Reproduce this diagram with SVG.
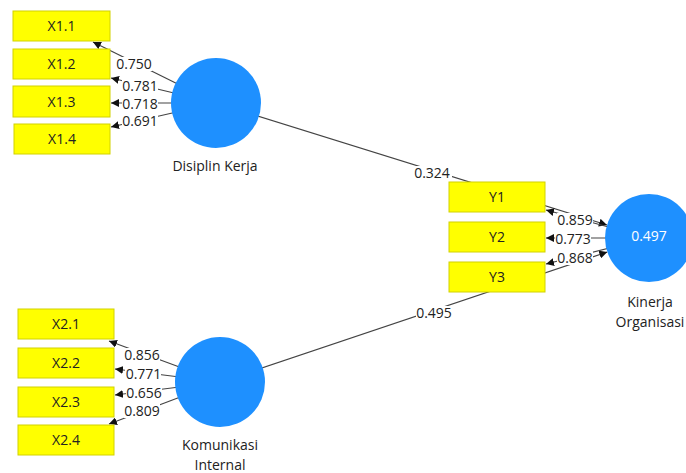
<svg xmlns="http://www.w3.org/2000/svg" width="686" height="473" viewBox="0 0 686 473">
<defs>
<marker id="ah" viewBox="0 0 10 10" refX="10" refY="5" markerWidth="8" markerHeight="8" markerUnits="userSpaceOnUse" orient="auto">
<path d="M0,0 L10,5 L0,10 z" fill="#111"/>
</marker>
</defs>
<style>
.ln{stroke:#444;stroke-width:1.2;fill:none;marker-end:url(#ah)}
.box{fill:#ffff00;stroke:#d2d200;stroke-width:1}
.lv{fill:#1e90ff}
.t{font-family:"Open Sans","Noto Sans",sans-serif;font-size:14px;fill:#222;text-anchor:middle}
.w{fill:#fff}
.inner{fill:#fff;font-family:"Open Sans","Noto Sans",sans-serif;font-size:14px;text-anchor:middle}
</style>
<rect width="686" height="473" fill="#fff"/>
<g id="connectors">
<line class="ln" x1="216" y1="103" x2="607" y2="225"/>
<line class="ln" x1="220" y1="382" x2="607.3" y2="252"/>
<line class="ln" x1="216" y1="103" x2="93" y2="42"/>
<line class="ln" x1="216" y1="103" x2="111" y2="78"/>
<line class="ln" x1="216" y1="103" x2="111" y2="103"/>
<line class="ln" x1="216" y1="103" x2="111" y2="127"/>
<line class="ln" x1="220" y1="382" x2="109" y2="341"/>
<line class="ln" x1="220" y1="382" x2="115" y2="369"/>
<line class="ln" x1="220" y1="382" x2="115" y2="395"/>
<line class="ln" x1="220" y1="382" x2="109" y2="424"/>
<line class="ln" x1="649" y1="238" x2="546" y2="210"/>
<line class="ln" x1="649" y1="238" x2="546" y2="238"/>
<line class="ln" x1="649" y1="238" x2="546" y2="264"/>
<rect class="w" x="414" y="166" width="38" height="13"/>
<text class="t" x="432" y="178">0.324</text>
<rect class="w" x="416" y="306" width="38" height="13"/>
<text class="t" x="434" y="318">0.495</text>
<rect class="w" x="116" y="57" width="36" height="14"/>
<text class="t" x="134" y="69">0.750</text>
<rect class="w" x="122" y="79" width="36" height="14"/>
<text class="t" x="140" y="91">0.781</text>
<rect class="w" x="122" y="97" width="36" height="14"/>
<text class="t" x="140" y="109">0.718</text>
<rect class="w" x="122" y="114" width="36" height="14"/>
<text class="t" x="140" y="126">0.691</text>
<rect class="w" x="124" y="348" width="36" height="14"/>
<text class="t" x="142" y="360">0.856</text>
<rect class="w" x="125" y="367" width="36" height="14"/>
<text class="t" x="143.5" y="379">0.771</text>
<rect class="w" x="126" y="386" width="36" height="14"/>
<text class="t" x="144" y="398">0.656</text>
<rect class="w" x="124" y="404" width="36" height="14"/>
<text class="t" x="142" y="416">0.809</text>
<rect class="w" x="557" y="213" width="36" height="14"/>
<text class="t" x="575" y="225">0.859</text>
<rect class="w" x="555" y="232" width="36" height="14"/>
<text class="t" x="573" y="244">0.773</text>
<rect class="w" x="557" y="251" width="36" height="14"/>
<text class="t" x="575" y="263">0.868</text>
</g>
<g id="X1.1"><rect class="box" x="13" y="11" width="97" height="30"/><text class="t" x="61.5" y="31">X1.1</text></g>
<g id="X1.2"><rect class="box" x="13" y="49" width="97" height="30"/><text class="t" x="61.5" y="69">X1.2</text></g>
<g id="X1.3"><rect class="box" x="13" y="86" width="97" height="31"/><text class="t" x="61.5" y="107">X1.3</text></g>
<g id="X1.4"><rect class="box" x="14" y="124" width="96" height="30"/><text class="t" x="62" y="144">X1.4</text></g>
<g id="X2.1"><rect class="box" x="18" y="309" width="96" height="30"/><text class="t" x="66" y="329">X2.1</text></g>
<g id="X2.2"><rect class="box" x="18" y="348" width="96" height="30"/><text class="t" x="66" y="368">X2.2</text></g>
<g id="X2.3"><rect class="box" x="18" y="387" width="96" height="30"/><text class="t" x="66" y="407">X2.3</text></g>
<g id="X2.4"><rect class="box" x="18" y="425" width="96" height="30"/><text class="t" x="66" y="445">X2.4</text></g>
<g id="Y1"><rect class="box" x="449" y="182" width="96" height="30"/><text class="t" x="497" y="202">Y1</text></g>
<g id="Y2"><rect class="box" x="449" y="222" width="96" height="30"/><text class="t" x="497" y="242">Y2</text></g>
<g id="Y3"><rect class="box" x="449" y="262" width="96" height="30"/><text class="t" x="497" y="282">Y3</text></g>
<g id="DisiplinKerja"><circle class="lv" cx="216" cy="103" r="45"/><text class="t" x="215" y="171">Disiplin Kerja</text></g>
<g id="KomunikasiInternal"><circle class="lv" cx="220" cy="382" r="45"/><text class="t" x="220" y="450">Komunikasi</text><text class="t" x="220" y="470">Internal</text></g>
<g id="KinerjaOrganisasi"><circle class="lv" cx="649" cy="238" r="44"/><text class="inner" x="649" y="241">0.497</text><text class="t" x="650" y="307">Kinerja</text><text class="t" x="650" y="327">Organisasi</text></g>
</svg>
